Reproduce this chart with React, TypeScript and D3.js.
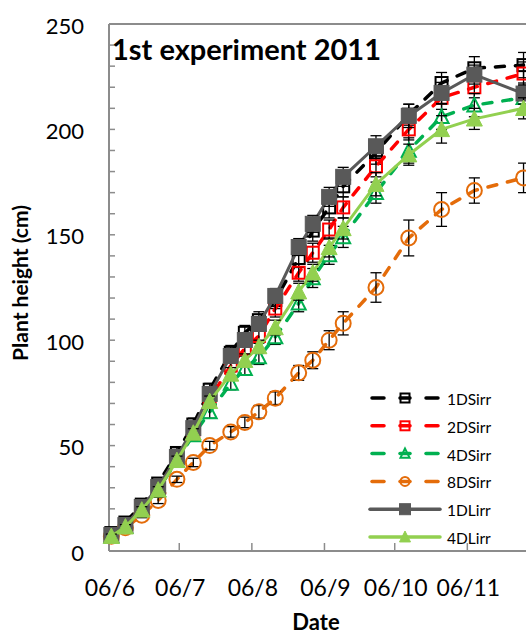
import React from "react";
import * as d3 from "d3";

// Measurement dates (2011)
const dates = [
  "2011-06-07", "2011-06-13", "2011-06-20", "2011-06-27", "2011-07-05",
  "2011-07-12", "2011-07-19", "2011-07-28", "2011-08-03", "2011-08-09",
  "2011-08-16", "2011-08-26", "2011-09-01", "2011-09-08", "2011-09-14",
  "2011-09-28", "2011-10-12", "2011-10-26", "2011-11-09", "2011-11-30",
];

// Plant height (cm) per treatment
const h1DSirr = [8.5, 13.5, 22, 32, 46.5, 60, 76.5, 94, 103.5, 109.5, 119, 139, 152, 163, 173, 189, 207, 222, 229, 230.5];
const h2DSirr = [7.5, 12, 20.5, 30, 44, 57, 72, 88, 96, 102, 115, 132, 141.5, 152.5, 163, 182.5, 200, 215, 220, 226.5];
const h4DSirr = [7, 11.5, 19.5, 29, 43, 55, 66, 79.5, 86.5, 92, 101.5, 117.5, 129.5, 140.5, 149, 170, 190, 206, 211.5, 215];
const h8DSirr = [7, 11, 17, 24, 34, 42, 50, 56.5, 61, 66, 72.5, 84.5, 90.5, 100, 108, 125, 148.5, 162, 171, 177];
const h1DLirr = [7.6, 12.3, 20.9, 30.4, 44.6, 58.3, 74.5, 92.5, 100.1, 107.7, 121, 144.2, 155.2, 168, 177.5, 192, 206.4, 217.3, 226, 217];
const h4DLirr = [7, 11.5, 19.5, 29, 43, 56, 71, 84, 90.5, 97, 106, 123, 132, 144, 153, 174, 188, 200, 205, 210];

// Standard errors (cm)
const e1DSirr = [1, 1.2, 1.5, 2, 2.5, 3, 3, 3.5, 3.5, 4, 4, 4.5, 5, 5, 5, 5.5, 5, 5, 5.5, 6];
const e2DSirr = [1, 1, 1.5, 2, 2, 2.5, 3, 3, 3.5, 3.5, 4, 4, 4.5, 4.5, 5, 5, 5, 5.5, 5, 5.5];
const e4DSirr = [1, 1, 1.5, 2, 2, 2.5, 3, 3, 3, 3.5, 3.5, 4, 4.5, 4.5, 5, 5, 6, 6, 5.5, 6];
const e8DSirr = [0.8, 1, 1.2, 1.5, 1.5, 2, 2, 2.5, 2.5, 3, 3, 3.5, 4, 4.5, 5.5, 7, 8.5, 8, 6, 7];
const e1DLirr = [1, 1, 1.5, 2, 2, 2.5, 3, 3, 3, 3.5, 3.5, 4, 4, 4.5, 4.5, 5, 5.5, 5, 4.5, 5];
const e4DLirr = [1, 1, 1.5, 1.5, 2, 2, 2.5, 3, 3, 3, 3.5, 4, 4, 4.5, 5, 5.5, 5, 6.5, 5, 5];

const seriesNames = ["1DSirr", "2DSirr", "4DSirr", "8DSirr", "1DLirr", "4DLirr"];
const yTicks = [0, 50, 100, 150, 200, 250];
const xTickDates = ["2011-06-06", "2011-07-06", "2011-08-06", "2011-09-06", "2011-10-06", "2011-11-06"];

type Marker = "squareOpen" | "triangleOpen" | "circleOpen" | "squareFilled" | "triangleFilled";

const series = [
  { name: seriesNames[0], values: h1DSirr, errs: e1DSirr, color: "#000000", dashed: true, marker: "squareOpen" as Marker },
  { name: seriesNames[1], values: h2DSirr, errs: e2DSirr, color: "#FF0000", dashed: true, marker: "squareOpen" as Marker },
  { name: seriesNames[2], values: h4DSirr, errs: e4DSirr, color: "#00B050", dashed: true, marker: "triangleOpen" as Marker },
  { name: seriesNames[3], values: h8DSirr, errs: e8DSirr, color: "#E46C0A", dashed: true, marker: "circleOpen" as Marker },
  { name: seriesNames[4], values: h1DLirr, errs: e1DLirr, color: "#595959", dashed: false, marker: "squareFilled" as Marker },
  { name: seriesNames[5], values: h4DLirr, errs: e4DLirr, color: "#92D050", dashed: false, marker: "triangleFilled" as Marker },
];

const W = 526;
const H = 636;
const left = 109;
const top = 24;
const bottom = 551;
const pxPerDay = 2.342;
const font = "Lato, 'Open Sans', sans-serif";

const parse = d3.timeParse("%Y-%m-%d");
const startDate = parse("2011-06-06") as Date;
const endDate = parse("2011-12-06") as Date;
const x = d3
  .scaleTime()
  .domain([startDate, endDate])
  .range([left, left + d3.timeDay.count(startDate, endDate) * pxPerDay]);
const y = d3.scaleLinear().domain([0, 250]).range([bottom, top]);
const fmt = d3.timeFormat("%d/%-m");

function MarkerShape({ kind, cx, cy, color, s }: { kind: Marker; cx: number; cy: number; color: string; s: number }) {
  if (kind === "squareOpen") {
    return <rect x={cx - s / 2} y={cy - s / 2} width={s} height={s} fill="none" stroke={color} strokeWidth={2} />;
  }
  if (kind === "squareFilled") {
    return <rect x={cx - s / 2} y={cy - s / 2} width={s} height={s} fill={color} stroke={color} strokeWidth={1} />;
  }
  if (kind === "circleOpen") {
    return <circle cx={cx} cy={cy} r={s / 2} fill="none" stroke={color} strokeWidth={2} />;
  }
  const hgt = s * 0.9;
  const pts = `${cx},${cy - hgt / 2 - 1} ${cx - s / 2},${cy + hgt / 2} ${cx + s / 2},${cy + hgt / 2}`;
  if (kind === "triangleOpen") {
    return <polygon points={pts} fill="none" stroke={color} strokeWidth={2} strokeLinejoin="miter" />;
  }
  return <polygon points={pts} fill={color} stroke={color} strokeWidth={1} />;
}

const markerSize: Record<Marker, number> = {
  squareOpen: 12,
  squareFilled: 15,
  circleOpen: 15,
  triangleOpen: 14,
  triangleFilled: 16,
};

export default function App() {
  const dts = dates.map((d) => parse(d) as Date);
  const line = d3
    .line<number>()
    .x((_, i) => x(dts[i]))
    .y((v) => y(v));

  const minorTicks = d3.range(0, 251, 10);
  const legendY0 = 398;
  const legendStep = 27.8;

  return (
    <svg
      width={W}
      height={H}
      style={{ position: "absolute", left: 0, top: 0, background: "#fff" }}
      fontFamily={font}
    >
      {/* plot frame */}
      <line x1={left} x2={W + 20} y1={top} y2={top} stroke="#8c8c8c" strokeWidth={2} />
      <line x1={left} x2={left} y1={top} y2={bottom} stroke="#8c8c8c" strokeWidth={2} />
      <line x1={left} x2={W + 20} y1={bottom} y2={bottom} stroke="#8c8c8c" strokeWidth={2} />

      {/* y ticks */}
      {minorTicks.map((t) => (
        <line key={"yt" + t} x1={left} x2={left + 6} y1={y(t)} y2={y(t)} stroke="#8c8c8c" strokeWidth={1.5} />
      ))}
      {yTicks.map((t) => (
        <text key={"yl" + t} x={84} y={y(t) + 1} textAnchor="end" dominantBaseline="central" fontSize={22} fill="#000">
          {t}
        </text>
      ))}

      {/* x ticks */}
      {xTickDates.map((d) => {
        const dt = parse(d) as Date;
        return (
          <g key={"xt" + d}>
            <line x1={x(dt)} x2={x(dt)} y1={bottom} y2={bottom - 8} stroke="#8c8c8c" strokeWidth={1.5} />
            <text x={x(dt) + 1} y={587} textAnchor="middle" dominantBaseline="central" fontSize={23} fill="#000">
              {fmt(dt)}
            </text>
          </g>
        );
      })}

      {/* axis titles */}
      <text x={316} y={630} textAnchor="middle" fontSize={22} fontWeight="bold" fill="#000">
        Date
      </text>
      <text
        transform={`translate(28,283) rotate(-90)`}
        textAnchor="middle"
        fontSize={21}
        fontWeight="bold"
        fill="#000"
      >
        Plant height (cm)
      </text>

      {/* chart title */}
      <text x={112} y={60} fontSize={29} fontWeight="bold" fill="#000">
        1st experiment 2011
      </text>

      {/* series */}
      {series.map((s) => (
        <g key={s.name}>
          <path
            d={line(s.values) || ""}
            fill="none"
            stroke={s.color}
            strokeWidth={s.dashed ? 3.5 : 3}
            strokeDasharray={s.dashed ? "9,11" : undefined}
            strokeLinecap={s.dashed ? "round" : "butt"}
          />
          {s.values.map((v, i) => {
            const cx = x(dts[i]);
            const hi = y(v + s.errs[i]);
            const lo = y(v - s.errs[i]);
            return (
              <g key={"e" + i} stroke="#000" strokeWidth={1.3}>
                <line x1={cx} x2={cx} y1={hi} y2={lo} />
                <line x1={cx - 5.5} x2={cx + 5.5} y1={hi} y2={hi} />
                <line x1={cx - 5.5} x2={cx + 5.5} y1={lo} y2={lo} />
              </g>
            );
          })}
          {s.values.map((v, i) => (
            <MarkerShape key={"m" + i} kind={s.marker} cx={x(dts[i])} cy={y(v)} color={s.color} s={markerSize[s.marker]} />
          ))}
        </g>
      ))}

      {/* legend */}
      {series.map((s, i) => {
        const ly = legendY0 + i * legendStep;
        return (
          <g key={"lg" + s.name}>
            {s.dashed ? (
              <g stroke={s.color} strokeWidth={3.5} strokeLinecap="round">
                <line x1={372} x2={384} y1={ly} y2={ly} />
                <line x1={400} x2={410} y1={ly} y2={ly} />
                <line x1={426} x2={438} y1={ly} y2={ly} />
              </g>
            ) : (
              <line x1={370} x2={440} y1={ly} y2={ly} stroke={s.color} strokeWidth={3.5} strokeLinecap="round" />
            )}
            <MarkerShape
              kind={s.marker}
              cx={405}
              cy={ly}
              color={s.color}
              s={s.marker === "squareFilled" ? 11 : s.marker === "triangleFilled" ? 11 : 9}
            />
            <text x={447} y={ly + 1} dominantBaseline="central" fontSize={15.5} fill="#000">
              {s.name}
            </text>
          </g>
        );
      })}
    </svg>
  );
}
